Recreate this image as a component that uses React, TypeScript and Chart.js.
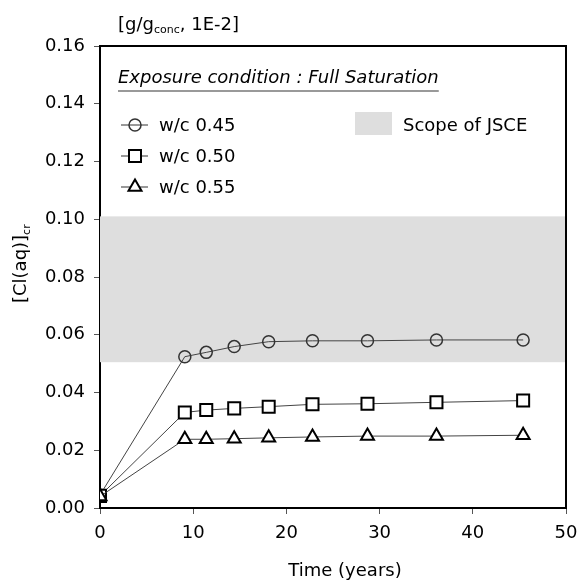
import React, { useEffect, useRef } from "react";
import { Chart, registerables } from "chart.js";

Chart.register(...registerables);

const timeYears = [0, 9.1, 11.4, 14.4, 18.1, 22.8, 28.7, 36.1, 45.4];
const wc045 = [0.0045, 0.0524, 0.0539, 0.0559, 0.0576, 0.0579, 0.0579, 0.0582, 0.0582];
const wc050 = [0.0042, 0.0331, 0.0339, 0.0345, 0.0351, 0.0359, 0.0361, 0.0366, 0.0372];
const wc055 = [0.004, 0.0238, 0.0238, 0.024, 0.0243, 0.0246, 0.0249, 0.0249, 0.0252];
const seriesLabels = ["w/c 0.45", "w/c 0.50", "w/c 0.55"];
const jsceBand = [0.0505, 0.101];
const yTicks = [0, 0.02, 0.04, 0.06, 0.08, 0.1, 0.12, 0.14, 0.16];
const xTicks = [0, 10, 20, 30, 40, 50];

const FONT = "DejaVu Sans";

function pts(ys: number[]) {
  return ys.map((y, i) => ({ x: timeYears[i], y }));
}

function drawMarker(ctx: CanvasRenderingContext2D, style: string, x: number, y: number, color: string, lw: number) {
  ctx.save();
  ctx.strokeStyle = color;
  ctx.lineWidth = lw;
  ctx.fillStyle = "#fff";
  ctx.beginPath();
  if (style === "circle") {
    ctx.arc(x, y, 6, 0, Math.PI * 2);
  } else if (style === "rect") {
    const s = 6;
    ctx.rect(x - s, y - s, 2 * s, 2 * s);
  } else {
    const h = 7.5;
    ctx.moveTo(x, y - h);
    ctx.lineTo(x + h * Math.sin(Math.PI / 3), y + h * 0.5);
    ctx.lineTo(x - h * Math.sin(Math.PI / 3), y + h * 0.5);
    ctx.closePath();
  }
  if (style !== "circle") ctx.fill();
  ctx.stroke();
  ctx.restore();
}

const decorPlugin = {
  id: "decor",
  beforeDatasetsDraw(chart: any) {
    const { ctx, chartArea, scales } = chart;
    const yTop = scales.y.getPixelForValue(jsceBand[1]);
    const yBot = scales.y.getPixelForValue(jsceBand[0]);
    ctx.save();
    ctx.fillStyle = "#dedede";
    ctx.fillRect(chartArea.left, yTop, chartArea.right - chartArea.left, yBot - yTop);
    ctx.restore();
  },
  afterDraw(chart: any) {
    const { ctx, chartArea } = chart;
    ctx.save();
    ctx.strokeStyle = "#000";
    ctx.lineWidth = 2;
    ctx.beginPath();
    ctx.moveTo(chartArea.left, chartArea.top);
    ctx.lineTo(chartArea.right, chartArea.top);
    ctx.lineTo(chartArea.right, chartArea.bottom);
    ctx.stroke();

    ctx.fillStyle = "#000";
    ctx.textBaseline = "alphabetic";
    ctx.font = `18px ${FONT}`;
    let x = 118;
    const yb = 30;
    ctx.textAlign = "left";
    ctx.fillText("[g/g", x, yb);
    x += ctx.measureText("[g/g").width;
    ctx.font = `11px ${FONT}`;
    ctx.fillText("conc", x, yb + 3);
    x += ctx.measureText("conc").width;
    ctx.font = `18px ${FONT}`;
    ctx.fillText(", 1E-2]", x, yb);

    ctx.save();
    ctx.translate(26, 303);
    ctx.rotate(-Math.PI / 2);
    ctx.font = `18px ${FONT}`;
    ctx.fillText("[Cl(aq)]", 0, 0);
    const w = ctx.measureText("[Cl(aq)]").width;
    ctx.font = `11px ${FONT}`;
    ctx.fillText("cr", w, 4);
    ctx.restore();

    ctx.font = `18px ${FONT}`;
    ctx.textAlign = "center";
    ctx.fillText("Time (years)", 345, 576);

    ctx.textAlign = "left";
    ctx.font = `italic 18px ${FONT}`;
    const title = "Exposure condition : Full Saturation";
    ctx.fillText(title, 118, 83);
    const tw = ctx.measureText(title).width;
    ctx.strokeStyle = "#777";
    ctx.lineWidth = 1.5;
    ctx.beginPath();
    ctx.moveTo(118, 91);
    ctx.lineTo(118 + tw, 91);
    ctx.stroke();

    const styles = ["circle", "rect", "triangle"];
    const rows = [125, 156, 187];
    ctx.font = `18px ${FONT}`;
    ctx.textBaseline = "middle";
    rows.forEach((ry, i) => {
      ctx.strokeStyle = "#333";
      ctx.lineWidth = 1;
      ctx.beginPath();
      ctx.moveTo(121, ry);
      ctx.lineTo(148, ry);
      ctx.stroke();
      drawMarker(ctx, styles[i], 135, ry, i === 0 ? "#333" : "#000", i === 0 ? 1.5 : 2);
      ctx.fillStyle = "#000";
      ctx.fillText(seriesLabels[i], 159, ry + 1);
    });

    ctx.fillStyle = "#dedede";
    ctx.fillRect(355, 112, 37, 23);
    ctx.fillStyle = "#000";
    ctx.fillText("Scope of JSCE", 403, 126);
    ctx.restore();
  },
};

export default function App() {
  const ref = useRef<HTMLCanvasElement>(null);
  useEffect(() => {
    if (!ref.current) return;
    const mk = (label: string, data: number[], style: string, radius: number, color: string, bw: number) => ({
      label,
      data: pts(data),
      borderColor: "#444",
      borderWidth: 1,
      pointStyle: style,
      pointRadius: radius,
      pointBorderColor: color,
      pointBorderWidth: bw,
      pointBackgroundColor: style === "circle" ? "rgba(0,0,0,0)" : "#fff",
      tension: 0,
    });
    const chart = new Chart(ref.current, {
      type: "line",
      data: {
        datasets: [
          mk(seriesLabels[2], wc055, "triangle", 7.5, "#000", 2),
          mk(seriesLabels[1], wc050, "rect", 8.5, "#000", 2),
          mk(seriesLabels[0], wc045, "circle", 6, "#333", 1.5),
        ],
      },
      options: {
        animation: false,
        responsive: true,
        maintainAspectRatio: false,
        layout: { padding: { top: 46, right: 12, left: 0, bottom: 0 } },
        plugins: { legend: { display: false }, tooltip: { enabled: false } },
        scales: {
          x: {
            type: "linear",
            min: 0,
            max: 50,
            afterBuildTicks: (s: any) => {
              s.ticks = xTicks.map((v) => ({ value: v }));
            },
            afterFit: (s: any) => {
              s.height = 73;
              s.paddingRight = 0;
              s.paddingLeft = 0;
            },
            ticks: {
              color: "#000",
              font: { family: FONT, size: 18 },
              padding: 9,
              maxRotation: 0,
            },
            grid: { drawOnChartArea: false, drawTicks: true, tickLength: 6, color: "#555", lineWidth: 1 },
            border: { display: true, color: "#000", width: 2 },
          },
          y: {
            type: "linear",
            min: 0,
            max: 0.16,
            afterBuildTicks: (s: any) => {
              s.ticks = yTicks.map((v) => ({ value: v }));
            },
            afterFit: (s: any) => {
              s.width = 100;
              s.paddingTop = 0;
              s.paddingBottom = 0;
            },
            ticks: {
              color: "#000",
              font: { family: FONT, size: 18 },
              padding: 9,
              callback: (v: any) => Number(v).toFixed(2),
            },
            grid: { drawOnChartArea: false, drawTicks: true, tickLength: 6, color: "#555", lineWidth: 1 },
            border: { display: true, color: "#000", width: 2 },
          },
        },
      },
      plugins: [decorPlugin],
    } as any);
    return () => chart.destroy();
  }, []);
  return (
    <div style={{ position: "absolute", left: 0, top: 0, width: 578, height: 581, background: "#fff" }}>
      <canvas ref={ref} />
    </div>
  );
}
